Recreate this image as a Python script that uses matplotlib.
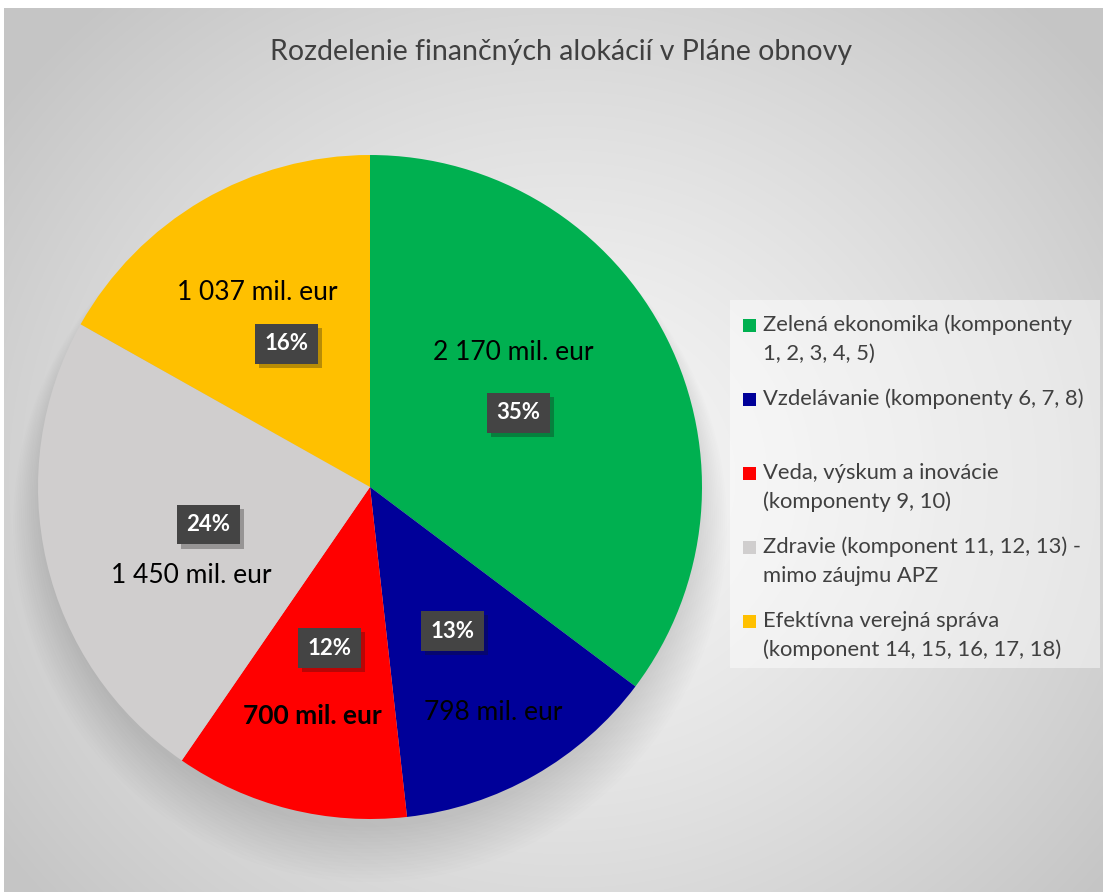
import numpy as np
import matplotlib.pyplot as plt
from matplotlib.patches import Circle, Rectangle
import matplotlib.patheffects as pe

# data
categories = [
    "Zelená ekonomika (komponenty\n1, 2, 3, 4, 5)",
    "Vzdelávanie (komponenty 6, 7, 8)",
    "Veda, výskum a inovácie\n(komponenty 9, 10)",
    "Zdravie (komponent 11, 12, 13) -\nmimo záujmu APZ",
    "Efektívna verejná správa\n(komponent 14, 15, 16, 17, 18)",
]
values = [2170, 798, 700, 1450, 1037]
value_labels = ["2 170 mil. eur", "798 mil. eur", "700 mil. eur", "1 450 mil. eur", "1 037 mil. eur"]
pct_labels = ["35%", "13%", "12%", "24%", "16%"]
colors = ["#00B050", "#000099", "#FF0000", "#D0CECE", "#FFC000"]

# layout (pixel offsets of the value text from the percent box)
value_offsets = [(-5, 60), (41, -81), (-17, -68), (-17, -51), (-29, 51)]
value_bold = [False, False, True, False, False]

W, H = 1103, 892
fig = plt.figure(figsize=(W / 100, H / 100), dpi=100)
fig.patch.set_facecolor("white")

# radial gradient background
bg = fig.add_axes([4 / W, 0, 1 - 4 / W, 1 - 8 / H])
yy, xx = np.mgrid[0:884, 0:1099]
cx, cy = 560, 470
d = np.sqrt(((xx - cx) / 700.0) ** 2 + ((yy - cy) / 640.0) ** 2)
d = np.clip(d, 0, 1)
g = (247 - 50 * d ** 1.3) / 255.0
bg.imshow(np.dstack([g, g, g]), aspect="auto", interpolation="bilinear")
bg.axis("off")

# pie
pcx, pcy, r = 370, 487, 332
ax = fig.add_axes([(pcx - r) / W, (H - pcy - r) / H, 2 * r / W, 2 * r / H])
# soft shadow under the pie
for k in range(16):
    ax.add_patch(Circle((0, -0.04 - 0.005 * k), 0.985 + 0.006 * k, color="black",
                        alpha=0.009, lw=0, clip_on=False))
wedges, _ = ax.pie(values, colors=colors, startangle=90, counterclock=False,
                   radius=1, wedgeprops=dict(linewidth=0))
ax.set_xlim(-1, 1)
ax.set_ylim(-1, 1)
ax.set_aspect("equal")
ax.axis("off")

for w, pl, vl, off, bold in zip(wedges, pct_labels, value_labels, value_offsets, value_bold):
    ang = np.deg2rad((w.theta1 + w.theta2) / 2)
    x, y = 0.5 * np.cos(ang), 0.5 * np.sin(ang)
    t = ax.text(x, y, pl, ha="center", va="center", color="white", fontsize=16,
                fontweight="bold", family="Lato", zorder=5,
                bbox=dict(boxstyle="square,pad=0.42", fc="#444444", ec="none"))
    t.get_bbox_patch().set_path_effects([pe.SimplePatchShadow(offset=(3, -3), alpha=0.3), pe.Normal()])
    ax.annotate(vl, (x, y), xytext=off, textcoords="offset pixels", ha="center", va="center",
                fontsize=19, family="Lato", color="black",
                fontweight="bold" if bold else "normal", zorder=5)

# title
fig.text(561 / W, 1 - 52 / H, "Rozdelenie finančných alokácií v Pláne obnovy",
         ha="center", va="center", fontsize=20.5, family="Lato", color="#404040")

# legend
lx0, ly0, lx1, ly1 = 730, 300, 1100, 668
lg = fig.add_axes([lx0 / W, (H - ly1) / H, (lx1 - lx0) / W, (ly1 - ly0) / H])
lg.set_xlim(0, lx1 - lx0)
lg.set_ylim(ly1 - ly0, 0)
lg.axis("off")
lg.add_patch(Rectangle((0, 0), lx1 - lx0, ly1 - ly0, fc="white", alpha=0.45, lw=0))
for i, (lab, c) in enumerate(zip(categories, colors)):
    y0 = 25 + i * 74
    lg.add_patch(Rectangle((13, y0 - 6.5), 13, 13, fc=c, lw=0))
    for j, line in enumerate(lab.split("\n")):
        lg.text(33, y0 + j * 29, line, ha="left", va="center", fontsize=15.8,
                family="Lato", color="#404040")

fig.savefig("out.png", dpi=100)
